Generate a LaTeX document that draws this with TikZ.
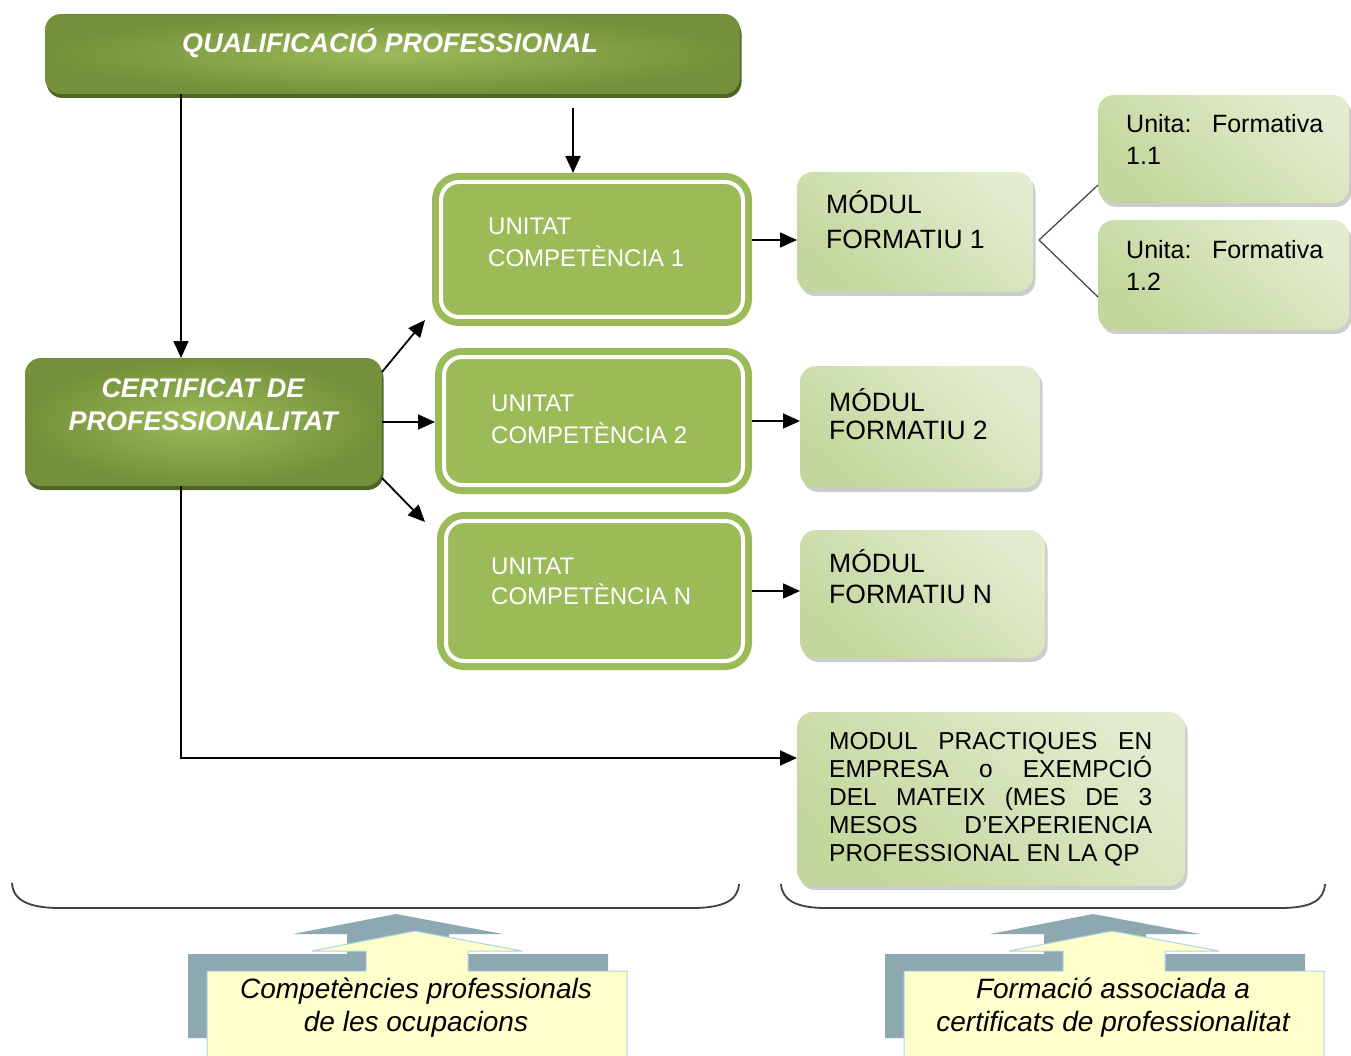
\documentclass[tikz,border=0pt]{standalone}
\usepackage{fontspec}
\setmainfont{Liberation Sans}
\usetikzlibrary{arrows.meta,shadows,calc}
\definecolor{dkg}{HTML}{74903A}
\definecolor{dkc}{HTML}{9BBB59}
\definecolor{dks}{HTML}{4F6228}
\definecolor{ucg}{HTML}{9BBB59}
\definecolor{lte}{HTML}{C3D69B}
\definecolor{ltm}{HTML}{EEF4E5}
\definecolor{ltt}{HTML}{E2ECCF}
\definecolor{arg}{HTML}{8EA8B2}
\definecolor{yel}{HTML}{FFFFCC}
\definecolor{yelb}{HTML}{A9D5E3}
\begin{document}
\begin{tikzpicture}[x=1pt,y=-1pt,
  darkbox/.style={rounded corners=16pt, inner color=dkc, outer color=dkg, inner sep=0pt, outer sep=0pt,
    drop shadow={shadow xshift=1.5pt, shadow yshift=-4pt, fill=dks, opacity=1}},
  ucbox/.style={rounded corners=18pt, fill=ucg, draw=ucg, double=white, line width=7pt,
    double distance=4pt, inner sep=0pt, outer sep=9pt},
  ltbox/.style={rounded corners=16pt, top color=ltt, middle color=ltm, bottom color=lte, shading angle=-40,
    inner sep=0pt, outer sep=0pt,
    drop shadow={shadow xshift=2.5pt, shadow yshift=-4pt, fill=black!40, opacity=.5}},
  dtxt/.style={text=white, font=\fontsize{27}{33}\selectfont\bfseries\itshape, align=center, inner sep=0pt},
  utxt/.style={text=white, font=\fontsize{24}{32}\selectfont, align=left, inner sep=0pt, anchor=west},
  mtxt/.style={text=black, align=left, inner sep=0pt, anchor=west},
  ftxt/.style={text=black, font=\fontsize{25}{32}\selectfont, align=left, inner sep=0pt, anchor=west},
  ptxt/.style={text=black, font=\fontsize{24.5}{28}\selectfont, align=left, inner sep=0pt, anchor=west},
  btxt/.style={text=black, font=\fontsize{28}{33}\selectfont\itshape, align=center, inner sep=0pt},
  arr/.style={line width=1.8pt, -{Triangle[length=17pt,width=15pt]}},
  thinline/.style={line width=1.2pt, black!75},
  brace/.style={line width=1.8pt, black!75},
  grayarrow/.style={fill=arg},
  yelarrow/.style={fill=yel, draw=yelb, line width=1pt}
]
\useasboundingbox (0,0) rectangle (1351,1056);

% boxes
\node[darkbox, minimum width=695pt, minimum height=80pt] (q) at (392.5,54) {};
\node[dtxt] (qt) at (390,43) {QUALIFICACIÓ PROFESSIONAL};
\node[darkbox, minimum width=357pt, minimum height=128pt] (cert) at (203.5,422) {};
\node[dtxt] (certt) at (203,405) {CERTIFICAT DE\\PROFESSIONALITAT};

\node[ucbox, minimum width=302pt, minimum height=135pt] (uc1) at (592,249.5) {};
\node[utxt] (uc1t) at (488,242) {UNITAT\\COMPETÈNCIA 1};
\node[ucbox, minimum width=299pt, minimum height=128pt] (uc2) at (593.5,421) {};
\node[utxt] (uc2t) at (491,419) {UNITAT\\COMPETÈNCIA 2};
\node[ucbox, minimum width=297pt, minimum height=140pt] (ucn) at (594.5,591) {};
\node[utxt, font=\fontsize{24}{30}\selectfont] (ucnt) at (491,581) {UNITAT\\COMPETÈNCIA N};

\node[ltbox, minimum width=236pt, minimum height=120pt] (mf1) at (915,232) {};
\node[mtxt, font=\fontsize{26.5}{35}\selectfont] (mf1t) at (826,219.5) {MÓDUL\\FORMATIU 1};
\node[ltbox, minimum width=240pt, minimum height=122pt] (mf2) at (920,427) {};
\node[mtxt, font=\fontsize{26.5}{28}\selectfont] (mf2t) at (829,414) {MÓDUL\\FORMATIU 2};
\node[ltbox, minimum width=245pt, minimum height=128pt] (mfn) at (922.5,594) {};
\node[mtxt, font=\fontsize{26.5}{31}\selectfont] (mfnt) at (829,576.5) {MÓDUL\\FORMATIU N};

\node[ltbox, minimum width=251pt, minimum height=108pt] (uf11) at (1223.5,149) {};
\node[ftxt] (uf11t) at (1126,139) {\hbox to 197pt{Unita:\hfill Formativa}\\1.1};
\node[ltbox, minimum width=251pt, minimum height=110pt] (uf12) at (1223.5,275) {};
\node[ftxt] (uf12t) at (1126,265) {\hbox to 197pt{Unita:\hfill Formativa}\\1.2};

\node[ltbox, minimum width=388pt, minimum height=174pt] (mp) at (991,799) {};
\node[ptxt] (mpt) at (829,799) {\hbox to 323pt{MODUL\hfill PRACTIQUES\hfill EN}\\
\hbox to 323pt{EMPRESA\hfill o\hfill EXEMPCIÓ}\\
\hbox to 323pt{DEL\hfill MATEIX\hfill (MES\hfill DE\hfill 3}\\
\hbox to 323pt{MESOS\hfill D’EXPERIENCIA}\\
PROFESSIONAL EN LA QP};

% connectors
\coordinate (colA) at (181,0);
\coordinate (colB) at (573,0);
\coordinate (rowP) at (0,758);
\draw[arr] (q.south -| colA) -- (cert.north -| colA);
\coordinate (qb) at ($(q.south -| colB)+(0,14)$);
\draw[arr] (qb) -- (uc1.north -| colB);
\draw[arr] ($(cert.north east)+(0,14)$) -- ($(uc1.south west)+(-7,-6)$);
\draw[arr] (cert.east) -- (cert.east -| uc2.west);
\draw[arr] ($(cert.south east)+(0,-8)$) -- ($(ucn.north west)+(-12,10)$);
\coordinate (a1) at ($(uc1.east)+(0,-9.5)$);
\draw[arr] (a1) -- (a1 -| mf1.west);
\draw[arr] (uc2.east) -- (uc2.east -| mf2.west);
\draw[arr] (ucn.east) -- (ucn.east -| mfn.west);
\draw[arr] (cert.south -| colA) |- (mp.west |- rowP);
\coordinate (mfo) at ($(mf1.east)+(6,8)$);
\draw[thinline] (mfo) -- ($(uf11.south west)+(0,-18)$);
\draw[thinline] (mfo) -- ($(uf12.west)+(0,22)$);

% braces
\draw[brace] (12,883) .. controls (13,900) and (28,908) .. (60,908) -- (692,908) .. controls (724,908) and (738,900) .. (739,884);
\draw[brace] (781,884) .. controls (782,900) and (796,908) .. (826,908) -- (1280,908) .. controls (1312,908) and (1324,900) .. (1325,884);

% bottom arrows
\foreach \dx in {0,697}{
\begin{scope}[xshift=\dx pt]
\fill[grayarrow] (188,1038) -- (188,954) -- (347,954) -- (347,934) -- (293,934) -- (396,914) -- (503,934) -- (449,934) -- (449,954) -- (608,954) -- (608,1038) -- cycle;
\filldraw[yelarrow] (207,1062) -- (207,971) -- (366,971) -- (366,951) -- (312,951) -- (415,931) -- (522,951) -- (468,951) -- (468,971) -- (627,971) -- (627,1062);
\end{scope}}
\node[btxt] (bl) at (416,1007.5) {Competències professionals\\de les ocupacions};
\node[btxt] (br) at (1113,1007.5) {Formació associada a\\certificats de professionalitat};
\end{tikzpicture}
\end{document}
